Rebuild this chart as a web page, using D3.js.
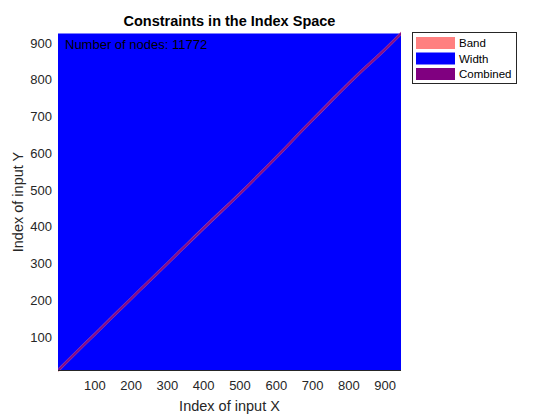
<!DOCTYPE html>
<html><head><meta charset="utf-8">
<script src="https://cdn.jsdelivr.net/npm/d3@7"></script>
<style>body{margin:0;background:#fff}svg{display:block}text{font-family:"Liberation Sans",Arial,sans-serif}</style>
</head><body>
<script>
// ---- data ----
const xDomain = [0, 945];
const yDomain = [9, 926];
const xTicks = [100, 200, 300, 400, 500, 600, 700, 800, 900];
const yTicks = [100, 200, 300, 400, 500, 600, 700, 800, 900];
// warping path (index of X -> index of Y)
const pathX = [1, 50, 100, 150, 200, 250, 300, 350, 400, 450, 500, 550, 600, 650, 700, 750, 800, 850, 900, 945];
const pathY = [10, 58, 106, 155, 203, 251, 299, 347, 395, 442, 489, 538, 588, 639, 690, 740, 789, 836, 882, 926];
const bandHalf = 5.5;    // band half-width (index units)
const combinedHalf = 4;  // combined constraint half-width
const legendLabels = ["Band", "Width", "Combined"];
const legendColors = ["#ff8080", "#0000ff", "#800080"];
const nodeCount = 11772;
const titleText = "Constraints in the Index Space";
const xLabel = "Index of input X";
const yLabel = "Index of input Y";

// ---- layout ----
const W = 560, H = 420;
const m = {left: 58, right: 401, top: 33.5, bottom: 370.5};
const svg = d3.select("body").append("svg").attr("width", W).attr("height", H);
const x = d3.scaleLinear().domain(xDomain).range([m.left, m.right]);
const y = d3.scaleLinear().domain(yDomain).range([m.bottom, m.top]);

svg.append("rect").attr("x", x(xDomain[0])).attr("y", y(yDomain[1]))
  .attr("width", x(xDomain[1]) - x(xDomain[0])).attr("height", y(yDomain[0]) - y(yDomain[1]))
  .attr("fill", legendColors[1]);

const pts = pathX.map((v, i) => [v, pathY[i]]);
const area = h => d3.area().x(d => x(d[0])).y0(d => y(d[1] - h)).y1(d => y(d[1] + h)).curve(d3.curveMonotoneX);
svg.append("path").datum(pts).attr("d", area(bandHalf)).attr("fill", legendColors[0]).attr("fill-opacity", 0.6);
svg.append("path").datum(pts).attr("d", area(combinedHalf)).attr("fill", legendColors[2]).attr("fill-opacity", 0.85);

// axes
const tc = "#262626";
const gx = svg.append("g").attr("transform", `translate(0,${m.bottom})`)
  .call(d3.axisBottom(x).tickValues(xTicks).tickSize(0).tickPadding(10));
const gy = svg.append("g").attr("transform", `translate(${m.left},0)`)
  .call(d3.axisLeft(y).tickValues(yTicks).tickSize(0).tickPadding(6));
[gx, gy].forEach(g => {
  g.select(".domain").remove();
  g.selectAll("text").attr("font-size", 13).attr("fill", tc).attr("font-family", '"Liberation Sans",Arial,sans-serif');
});
svg.append("line").attr("x1", m.left).attr("x2", m.right).attr("y1", m.bottom).attr("y2", m.bottom)
  .attr("stroke", tc).attr("stroke-width", 1);

// texts
svg.append("text").attr("x", (m.left + m.right) / 2).attr("y", 26).attr("text-anchor", "middle")
  .attr("font-size", 14.5).attr("font-weight", "bold").attr("fill", "#000").text(titleText);
svg.append("text").attr("x", (m.left + m.right) / 2).attr("y", 411).attr("text-anchor", "middle")
  .attr("font-size", 14.5).attr("fill", tc).text(xLabel);
svg.append("text").attr("transform", `translate(23,${(m.top + m.bottom) / 2}) rotate(-90)`).attr("text-anchor", "middle")
  .attr("font-size", 14.5).attr("fill", tc).text(yLabel);
svg.append("text").attr("x", 65).attr("y", 49).attr("font-size", 13).attr("fill", "#000")
  .text("Number of nodes: " + nodeCount);

// legend
const lg = svg.append("g");
lg.append("rect").attr("x", 412.5).attr("y", 32.5).attr("width", 104).attr("height", 51)
  .attr("fill", "#fff").attr("stroke", "#262626").attr("stroke-width", 1);
legendLabels.forEach((lab, i) => {
  const cy = 43 + i * 15.5;
  lg.append("rect").attr("x", 416).attr("y", cy - 6).attr("width", 39).attr("height", 12).attr("fill", legendColors[i]);
  lg.append("text").attr("x", 459).attr("y", cy + 4).attr("font-size", 11.5).attr("fill", "#000").text(lab);
});
</script>
</body></html>
